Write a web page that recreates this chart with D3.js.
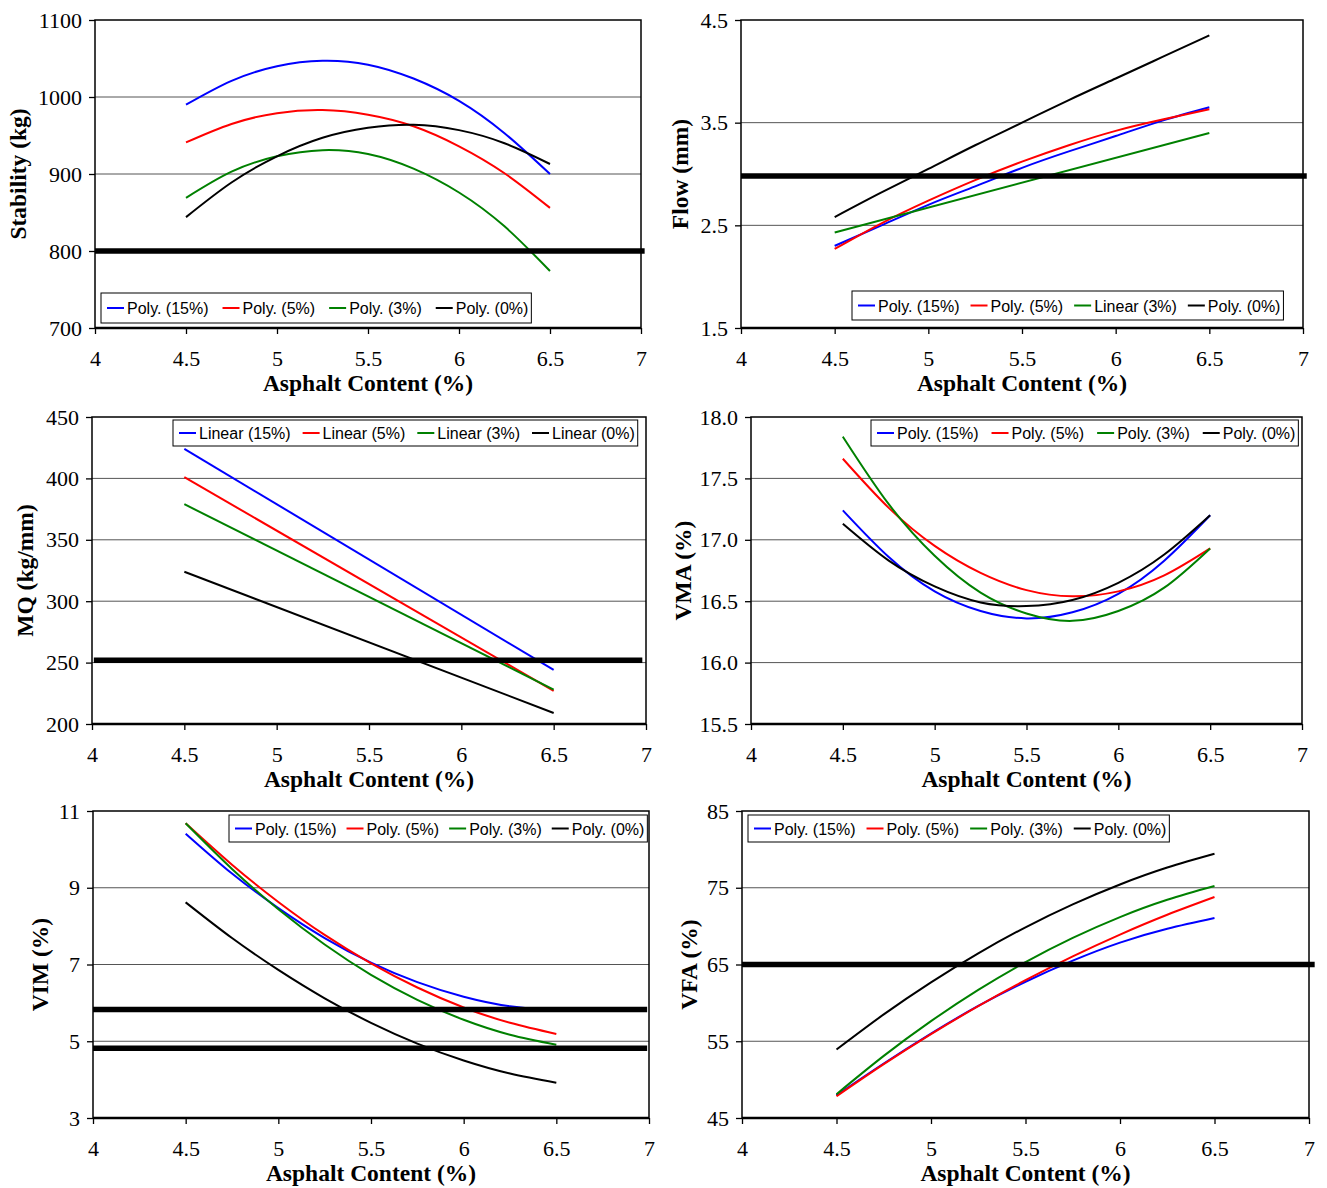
<!DOCTYPE html>
<html>
<head>
<meta charset="utf-8">
<script src="https://cdn.jsdelivr.net/npm/d3@7"></script>
<style>
  body { margin: 0; background: #fff; }
  svg { display: block; }
</style>
</head>
<body>
<script>
// asphalt content points (trendline samples) and end points for linear fits
var acFine = [4.5, 4.75, 5, 5.25, 5.5, 5.75, 6, 6.25, 6.5];
var acEnds = [4.5, 6.5];
var xTicks = [4, 4.5, 5, 5.5, 6, 6.5, 7];

// Stability (kg)
var stab15 = [990, 1021, 1040, 1047, 1042, 1024, 995, 953, 900];
var stab5  = [941, 965, 979, 983, 977, 962, 936, 901, 856];
var stab3  = [869, 903, 923, 931, 926, 907, 876, 832, 774];
var stab0  = [844, 889, 923, 947, 960, 964, 957, 940, 913];

// Flow (mm)
var flow15 = [2.30, 2.50, 2.70, 2.88, 3.06, 3.22, 3.37, 3.52, 3.65];
var flow5  = [2.27, 2.52, 2.74, 2.94, 3.12, 3.28, 3.42, 3.53, 3.63];
var flow3  = [2.43, 3.40];
var flow0  = [2.58, 2.82, 3.05, 3.28, 3.50, 3.72, 3.93, 4.14, 4.35];

// MQ (kg/mm), linear
var mq15 = [424, 244];
var mq5  = [401, 227];
var mq3  = [379, 228];
var mq0  = [324, 209];

// VMA (%)
var vma15 = [17.24, 16.86, 16.58, 16.42, 16.36, 16.41, 16.56, 16.83, 17.20];
var vma5  = [17.66, 17.26, 16.95, 16.73, 16.59, 16.54, 16.58, 16.71, 16.93];
var vma3  = [17.84, 17.29, 16.87, 16.57, 16.40, 16.34, 16.42, 16.61, 16.93];
var vma0  = [17.13, 16.83, 16.62, 16.49, 16.46, 16.51, 16.65, 16.88, 17.20];

// VIM (%)
var vim15 = [10.41, 9.37, 8.47, 7.69, 7.05, 6.54, 6.16, 5.91, 5.80];
var vim5  = [10.68, 9.60, 8.63, 7.77, 7.03, 6.40, 5.88, 5.48, 5.19];
var vim3  = [10.68, 9.49, 8.44, 7.52, 6.73, 6.08, 5.56, 5.17, 4.91];
var vim0  = [8.62, 7.69, 6.86, 6.12, 5.48, 4.94, 4.50, 4.16, 3.92];

// VFA (%)
var vfa15 = [47.97, 52.1, 56.0, 59.6, 62.75, 65.5, 67.85, 69.65, 71.05];
var vfa5  = [47.84, 52.02, 55.93, 59.57, 62.95, 66.06, 68.90, 71.48, 73.79];
var vfa3  = [48.10, 53.09, 57.62, 61.69, 65.31, 68.47, 71.18, 73.43, 75.22];
var vfa0  = [53.92, 58.50, 62.68, 66.46, 69.85, 72.84, 75.43, 77.63, 79.43];

var colors = ['#0000ff', '#ff0000', '#008000', '#000000'];

var svg = d3.select('body').append('svg')
    .attr('width', 1327)
    .attr('height', 1188);

var serif = '"Liberation Serif", "Times New Roman", serif',
    sans = '"Liberation Sans", Arial, sans-serif';

function ser(names, xs, vals){
    return names.map(function(n, i){
        return {name: n, color: colors[i], pts: vals[i].map(function(v, j){ return {x: xs[i][j], y: v}; })};
    });
}

var panels = [
    {l:95, t:20, r:641, b:328, title:'Stability (kg)', tOff:77,
     yTicks:[700, 800, 900, 1000, 1100], fmt:d3.format('d'),
     series: ser(['Poly. (15%)','Poly. (5%)','Poly. (3%)','Poly. (0%)'],
                 [acFine, acFine, acFine, acFine], [stab15, stab5, stab3, stab0]),
     limits:[800], limX:[4, 7.02], leg:{x:101, y:293, h:30, gap:14}},
    {l:741, t:20, r:1303, b:328, title:'Flow (mm)', tOff:61,
     yTicks:[1.5, 2.5, 3.5, 4.5], fmt:d3.format('.1f'),
     series: ser(['Poly. (15%)','Poly. (5%)','Linear (3%)','Poly. (0%)'],
                 [acFine, acFine, acEnds, acFine], [flow15, flow5, flow3, flow0]),
     limits:[2.98], limX:[4, 7.02], leg:{x:852, y:291, h:29, gap:11}},
    {l:92, t:417, r:646, b:724, title:'MQ (kg/mm)', tOff:67,
     yTicks:[200, 250, 300, 350, 400, 450], fmt:d3.format('d'),
     series: ser(['Linear (15%)','Linear (5%)','Linear (3%)','Linear (0%)'],
                 [acEnds, acEnds, acEnds, acEnds], [mq15, mq5, mq3, mq0]),
     limits:[252], limX:[4.01, 6.98], leg:{x:173, y:420, h:26, gap:12}},
    {l:751, t:417, r:1302, b:724, title:'VMA (%)', tOff:68,
     yTicks:[15.5, 16, 16.5, 17, 17.5, 18], fmt:d3.format('.1f'),
     series: ser(['Poly. (15%)','Poly. (5%)','Poly. (3%)','Poly. (0%)'],
                 [acFine, acFine, acFine, acFine], [vma15, vma5, vma3, vma0]),
     limits:[], limX:[4, 7], leg:{x:871, y:420, h:26, gap:13}},
    {l:93, t:811, r:649, b:1118, title:'VIM (%)', tOff:53,
     yTicks:[3, 5, 7, 9, 11], fmt:d3.format('d'),
     series: ser(['Poly. (15%)','Poly. (5%)','Poly. (3%)','Poly. (0%)'],
                 [acFine, acFine, acFine, acFine], [vim15, vim5, vim3, vim0]),
     limits:[5.83, 4.82], limX:[4, 6.99], leg:{x:229, y:815, h:27, gap:10}},
    {l:742, t:811, r:1309, b:1118, title:'VFA (%)', tOff:53,
     yTicks:[45, 55, 65, 75, 85], fmt:d3.format('d'),
     series: ser(['Poly. (15%)','Poly. (5%)','Poly. (3%)','Poly. (0%)'],
                 [acFine, acFine, acFine, acFine], [vfa15, vfa5, vfa3, vfa0]),
     limits:[65], limX:[4, 7.03], leg:{x:748, y:815, h:27, gap:11}}
];

panels.forEach(drawPanel);

function drawPanel(p){
    var w = p.r - p.l, h = p.b - p.t;
    var g = svg.append('g').attr('transform', 'translate(' + p.l + ',' + p.t + ')');
    var x = d3.scaleLinear().domain([4, 7]).range([0, w]);
    var y = d3.scaleLinear().domain(d3.extent(p.yTicks)).range([h, 0]);

    //gridlines
    g.selectAll('.grid')
        .data(p.yTicks.slice(1, -1))
        .enter().append('line').attr('class', 'grid')
        .attr('x1', 0).attr('x2', w)
        .attr('y1', function(d){ return y(d); })
        .attr('y2', function(d){ return y(d); })
        .style('stroke', '#555').style('stroke-width', '1px');

    var line = d3.line()
        .x(function(d){ return x(d.x); })
        .y(function(d){ return y(d.y); })
        .curve(d3.curveNatural);

    g.selectAll('.trend')
        .data(p.series)
        .enter().append('path').attr('class', 'trend')
        .attr('d', function(d){ return line(d.pts); })
        .style('fill', 'none')
        .style('stroke', function(d){ return d.color; })
        .style('stroke-width', '2px');

    //frame
    g.append('rect').attr('width', w).attr('height', h)
        .style('fill', 'none').style('stroke', '#000').style('stroke-width', '1.5px');
    g.append('line').attr('x1', 0).attr('x2', w).attr('y1', h).attr('y2', h)
        .style('stroke', '#000').style('stroke-width', '2.5px');

    //spec limits
    g.selectAll('.limit')
        .data(p.limits)
        .enter().append('line').attr('class', 'limit')
        .attr('x1', x(p.limX[0])).attr('x2', x(p.limX[1]))
        .attr('y1', function(d){ return y(d); })
        .attr('y2', function(d){ return y(d); })
        .style('stroke', '#000').style('stroke-width', '5.5px');

    //axes
    var xAxis = g.append('g').attr('transform', 'translate(0,' + h + ')')
        .call(d3.axisBottom(x).tickValues(xTicks).tickSize(6).tickPadding(16)
            .tickFormat(function(d){ return String(d); }));
    var yAxis = g.append('g')
        .call(d3.axisLeft(y).tickValues(p.yTicks).tickSize(6).tickPadding(7).tickFormat(p.fmt));
    [xAxis, yAxis].forEach(function(a){
        a.attr('font-family', serif).attr('font-size', 22);
        a.select('.domain').remove();
        a.selectAll('line').style('stroke', '#000').style('stroke-width', '1.3px');
        a.selectAll('text')
            .attr('font-family', serif)
            .style('font-family', serif).style('font-size', '22px').style('fill', '#000');
    });

    //titles
    g.append('text')
        .attr('x', w / 2).attr('y', h + 63)
        .attr('text-anchor', 'middle')
        .style('font-family', serif).style('font-size', '23.5px').style('font-weight', 'bold')
        .text('Asphalt Content (%)');
    g.append('text')
        .attr('transform', 'translate(' + (-p.tOff) + ',' + (h / 2) + ') rotate(-90)')
        .attr('text-anchor', 'middle').attr('dy', '0.35em')
        .style('font-family', serif).style('font-size', '23.5px').style('font-weight', 'bold')
        .text(p.title);

    drawLegend(p);
}

function drawLegend(p){
    var L = p.leg;
    var lg = svg.append('g').attr('transform', 'translate(' + L.x + ',' + L.y + ')');
    var box = lg.append('rect').attr('height', L.h)
        .style('fill', '#fff').style('stroke', '#000').style('stroke-width', '1px');
    var cx = 6, mid = L.h / 2;
    p.series.forEach(function(s){
        lg.append('line')
            .attr('x1', cx).attr('x2', cx + 17)
            .attr('y1', mid).attr('y2', mid)
            .style('stroke', s.color).style('stroke-width', '2px');
        var t = lg.append('text')
            .attr('x', cx + 20).attr('y', mid + 6)
            .style('font-family', sans).style('font-size', '16px')
            .text(s.name);
        cx += 20 + t.node().getComputedTextLength() + L.gap;
    });
    box.attr('width', cx - L.gap + 3);
}
</script>
</body>
</html>
